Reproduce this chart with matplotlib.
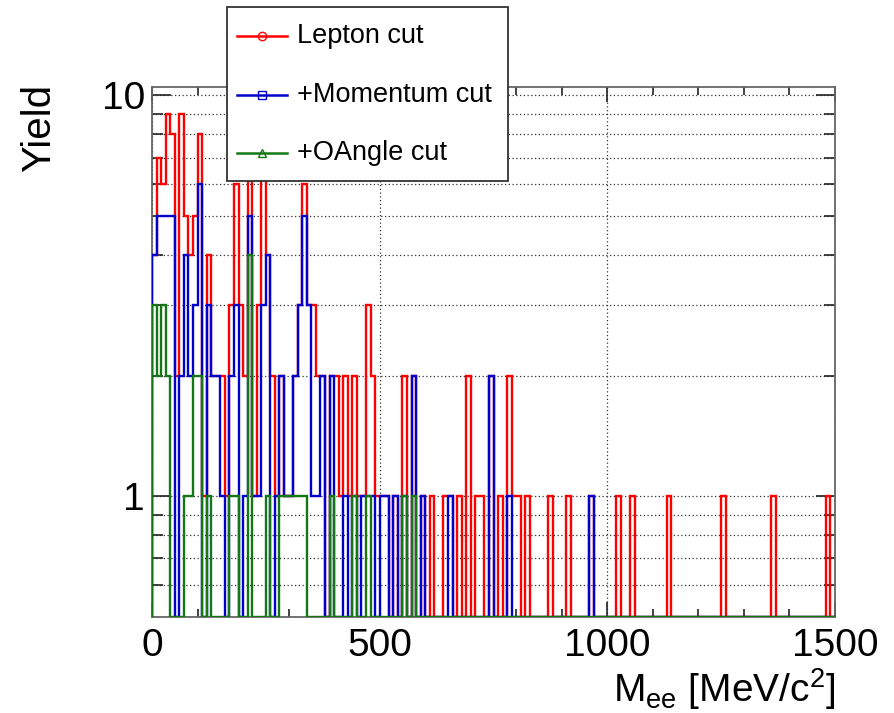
import numpy as np
import matplotlib
matplotlib.use('Agg')
import matplotlib.pyplot as plt
from matplotlib.lines import Line2D
from matplotlib.patches import Rectangle
from matplotlib.ticker import FixedLocator, NullFormatter, MultipleLocator

plt.rcParams['font.family'] = ['Liberation Sans', 'DejaVu Sans']
plt.rcParams['mathtext.fontset'] = 'custom'
plt.rcParams['mathtext.rm'] = 'Liberation Sans'
plt.rcParams['mathtext.it'] = 'Liberation Sans'

# ---------------- data ----------------
bin_edges = np.linspace(0, 1500, 151)

lepton = [4, 7, 6, 9, 8, 2, 9, 5, 4, 5, 8, 1, 4, 2, 2, 2, 1, 3, 6, 3,
          2, 7, 1, 3, 7, 4, 2, 1, 2, 1, 1, 2, 3, 6, 3, 3, 2, 2, 0, 2,
          2, 1, 2, 1, 2, 1, 1, 3, 2, 1, 1, 1, 0, 1, 0, 2, 0, 2, 0, 1,
          0, 1, 0, 0, 1, 1, 0, 1, 0, 2, 0, 1, 1, 0, 2, 0, 1, 0, 2, 1,
          1, 0, 1, 0, 0, 0, 0, 1, 0, 0, 0, 1, 0, 0, 0, 0, 1, 0, 0, 0,
          0, 0, 1, 0, 0, 1, 0, 0, 0, 0, 0, 0, 0, 1, 0, 0, 0, 0, 0, 0,
          0, 0, 0, 0, 0, 1, 0, 0, 0, 0, 0, 0, 0, 0, 0, 0, 1, 0, 0, 0,
          0, 0, 0, 0, 0, 0, 0, 0, 1, 0]
momentum = [4, 5, 5, 5, 5, 0, 2, 4, 2, 3, 6, 0, 3, 2, 2, 1, 0, 2, 3, 0,
            1, 5, 1, 1, 3, 4, 0, 1, 2, 1, 1, 2, 3, 5, 3, 1, 1, 2, 0, 2,
            0, 0, 1, 0, 1, 0, 1, 1, 1, 0, 1, 1, 0, 1, 0, 1, 0, 2, 0, 1,
            0, 0, 0, 0, 0, 1, 0, 0, 0, 0, 0, 0, 0, 0, 2, 0, 0, 0, 1, 0,
            0, 0, 0, 0, 0, 0, 0, 0, 0, 0, 0, 0, 0, 0, 0, 0, 1, 0, 0, 0,
            0, 0, 0, 0, 0, 0, 0, 0, 0, 0, 0, 0, 0, 0, 0, 0, 0, 0, 0, 0,
            0, 0, 0, 0, 0, 0, 0, 0, 0, 0, 0, 0, 0, 0, 0, 0, 0, 0, 0, 0,
            0, 0, 0, 0, 0, 0, 0, 0, 0, 0]
oangle = [3, 2, 3, 2, 0, 0, 0, 1, 1, 2, 2, 0, 1, 0, 0, 0, 0, 1, 1, 0,
          0, 4, 0, 0, 0, 1, 0, 0, 1, 1, 1, 1, 1, 1, 0, 0, 0, 0, 0, 1,
          0, 0, 0, 0, 1, 0, 0, 1, 0, 0, 0, 0, 0, 0, 0, 1, 0, 1, 0, 0,
          0, 0, 0, 0, 0, 0, 0, 0, 0, 0, 0, 0, 0, 0, 0, 0, 0, 0, 0, 0,
          0, 0, 0, 0, 0, 0, 0, 0, 0, 0, 0, 0, 0, 0, 0, 0, 0, 0, 0, 0,
          0, 0, 0, 0, 0, 0, 0, 0, 0, 0, 0, 0, 0, 0, 0, 0, 0, 0, 0, 0,
          0, 0, 0, 0, 0, 0, 0, 0, 0, 0, 0, 0, 0, 0, 0, 0, 0, 0, 0, 0,
          0, 0, 0, 0, 0, 0, 0, 0, 0, 0]

series_labels = ["Lepton cut", "+Momentum cut", "+OAngle cut"]
series_colors = ["#ff0000", "#0000cc", "#137813"]
series_markers = ["o", "s", "^"]
x_ticks = [0, 500, 1000, 1500]
x_ticklabels = ["0", "500", "1000", "1500"]
y_ticks = [1, 10]
y_ticklabels = ["1", "10"]

# ---------------- figure ----------------
W, H = 895, 713
fig = plt.figure(figsize=(W / 100, H / 100), dpi=100)
L, R, T, B = 152, 835, 87, 617
ax = fig.add_axes([L / W, 1 - B / H, (R - L) / W, (B - T) / H])

ymin, ymax = 0.5, 10.5
ax.set_yscale('log')
ax.set_xlim(0, 1500)
ax.set_ylim(ymin, ymax)

for vals, col in zip([lepton, momentum, oangle], series_colors):
    v = np.maximum(np.asarray(vals, dtype=float), ymin)
    ax.stairs(v, bin_edges, baseline=ymin, color=col, lw=1.7, zorder=3)

# ticks
ax.xaxis.set_major_locator(FixedLocator(x_ticks))
ax.set_xticklabels(x_ticklabels)
ax.xaxis.set_minor_locator(MultipleLocator(100))
ax.yaxis.set_major_locator(FixedLocator(y_ticks))
ax.set_yticklabels(y_ticklabels)
ax.yaxis.set_minor_locator(FixedLocator([0.6, 0.7, 0.8, 0.9, 2, 3, 4, 5, 6, 7, 8, 9]))
ax.yaxis.set_minor_formatter(NullFormatter())

ax.tick_params(which='both', direction='in', top=True, right=True, colors='#222222',
               labelcolor='black', labelsize=28, width=1.2)
ax.tick_params(axis='x', which='major', length=11, pad=8)
ax.tick_params(axis='x', which='minor', length=5.5)
ax.tick_params(axis='y', which='major', length=14, pad=5)
ax.tick_params(axis='y', which='minor', length=8)

ax.grid(True, axis='y', which='both', ls=(0, (1, 2)), color='#333333', lw=0.9, zorder=1)
ax.grid(True, axis='x', which='major', ls=(0, (1, 2)), color='#333333', lw=0.9, zorder=1)
for sp in ax.spines.values():
    sp.set_color('#666666')
    sp.set_linewidth(1.3)

# axis titles
fig.text(39 / W, 1 - 84 / H, "Yield", rotation=90, ha='center', va='top', fontsize=29)
fig.text(R / W, 1 - 702 / H, r"M$_{\mathrm{ee}}$ [MeV/c$^{2}$]", ha='right', va='baseline', fontsize=28)

# legend (drawn manually in figure pixels)
def fx(px):
    return px / W

def fy(py):
    return 1 - py / H

fig.patches.append(Rectangle((fx(227), fy(181)), (508 - 227) / W, (181 - 7) / H,
                             transform=fig.transFigure, facecolor='white',
                             edgecolor='#333333', lw=1.3, zorder=10))
rows_y = [36, 95, 153]
for lab, col, mk, yy in zip(series_labels, series_colors, series_markers, rows_y):
    fig.add_artist(Line2D([fx(237), fx(287)], [fy(yy), fy(yy)], color=col, lw=1.8,
                          transform=fig.transFigure, zorder=11))
    fig.add_artist(Line2D([fx(262)], [fy(yy)], marker=mk, markersize=6, markerfacecolor='none',
                          markeredgecolor=col, markeredgewidth=1.0, linestyle='none',
                          transform=fig.transFigure, zorder=12))
    fig.text(fx(297), fy(yy), lab, ha='left', va='center', fontsize=19.5, zorder=12)

fig.savefig("out.png", dpi=100)
